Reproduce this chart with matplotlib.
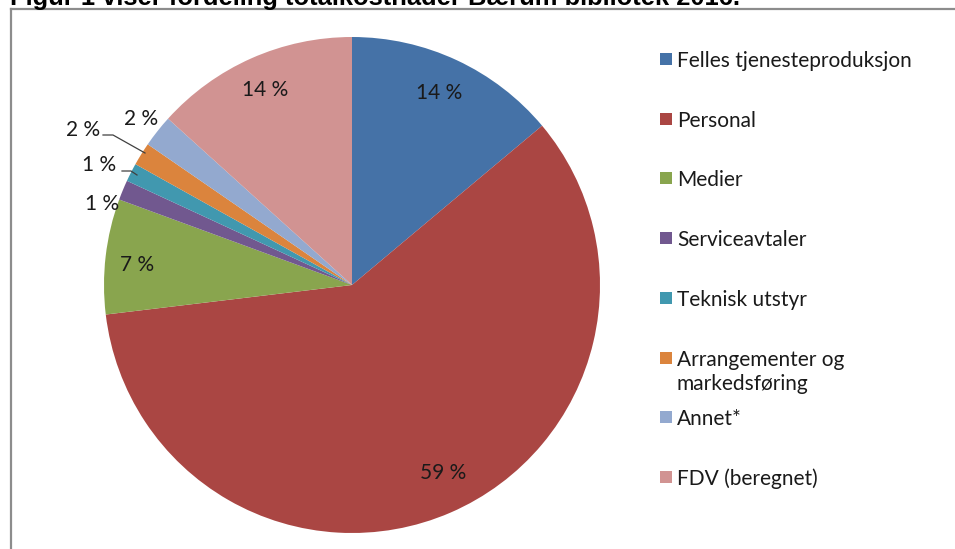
import matplotlib
matplotlib.use("Agg")
import matplotlib.pyplot as plt
from matplotlib.patches import Rectangle
from matplotlib.lines import Line2D
import numpy as np

# ---- data ----
categories = ["Felles tjenesteproduksjon", "Personal", "Medier", "Serviceavtaler",
              "Teknisk utstyr", "Arrangementer og\nmarkedsføring", "Annet*", "FDV (beregnet)"]
values = [13.9, 59.2, 7.5, 1.3, 1.2, 1.5, 2.1, 13.3]
pct_labels = ["14 %", "59 %", "7 %", "1 %", "1 %", "2 %", "2 %", "14 %"]
title = "Figur 1 viser fordeling totalkostnader Bærum bibliotek 2016."

# ---- style ----
colors = ["#4572A7", "#AA4643", "#89A54E", "#71588F", "#4198AF", "#DB843D", "#93A9CF", "#D19392"]
FONT = ["Lato", "DejaVu Sans"]
FS = 15
W, H = 955, 549
cx, cy, R = 352, 285, 248  # pixel centre and radius

fig = plt.figure(figsize=(W / 100, H / 100), dpi=100)
fig.patch.set_facecolor("white")

# frame
fig.add_artist(Line2D([11 / W, 11 / W], [0, 1 - 9 / H], color="#8c8c8c", lw=1.6))
fig.add_artist(Line2D([11 / W, 1], [1 - 9 / H, 1 - 9 / H], color="#8c8c8c", lw=1.6))

# title (cut off at the top, as in the source)
fig.text(10 / W, 1 - 5 / H, title, fontsize=18.4, fontweight="bold",
         family="Liberation Sans", ha="left", va="baseline")

# pie axes
half = 300
ax = fig.add_axes([(cx - half) / W, (H - cy - half) / H, 2 * half / W, 2 * half / H])
wedges, _ = ax.pie(values, colors=colors, startangle=90, counterclock=False,
                   radius=1, wedgeprops=dict(linewidth=0))
ax.set_xlim(-half / R, half / R)
ax.set_ylim(-half / R, half / R)
ax.axis("off")

# label placement (angle clockwise from top, radius)
lab_ang = [24.5, 154.2, 275.3, 288, 295.3, 299.9, 308.2, 336]
lab_r = [0.85, 0.84, 0.87, 1.06, 1.13, 1.25, 1.08, 0.86]
for txt, a, r in zip(pct_labels, lab_ang, lab_r):
    t = np.deg2rad(a)
    ax.text(r * np.sin(t), r * np.cos(t), txt, ha="center", va="center",
            fontsize=FS, family=FONT, color="#1a1a1a")

# leader lines for small slices (Arrangementer, Teknisk)
def pix(px, py):
    return ((px - cx) / R, (cy - py) / R)

for pts in ([(103, 135), (113, 135), (145, 153)], [(122, 171), (131, 171), (137, 175)]):
    xs, ys = zip(*[pix(*p) for p in pts])
    ax.plot(xs, ys, color="#404040", lw=0.9)

# legend (manual)
y0, dy, line_h = 59, 59.7, 25
for i, (cat, col) in enumerate(zip(categories, colors)):
    y = y0 + i * dy
    fig.add_artist(Rectangle((660 / W, 1 - (y + 6) / H), 12 / W, 12 / H,
                             facecolor=col, edgecolor="none"))
    for k, line in enumerate(cat.split("\n")):
        fig.text(677 / W, 1 - (y + k * line_h) / H, line, fontsize=FS, family=FONT,
                 color="#1a1a1a", ha="left", va="center_baseline")

fig.savefig("out.png", dpi=100, facecolor="white")
